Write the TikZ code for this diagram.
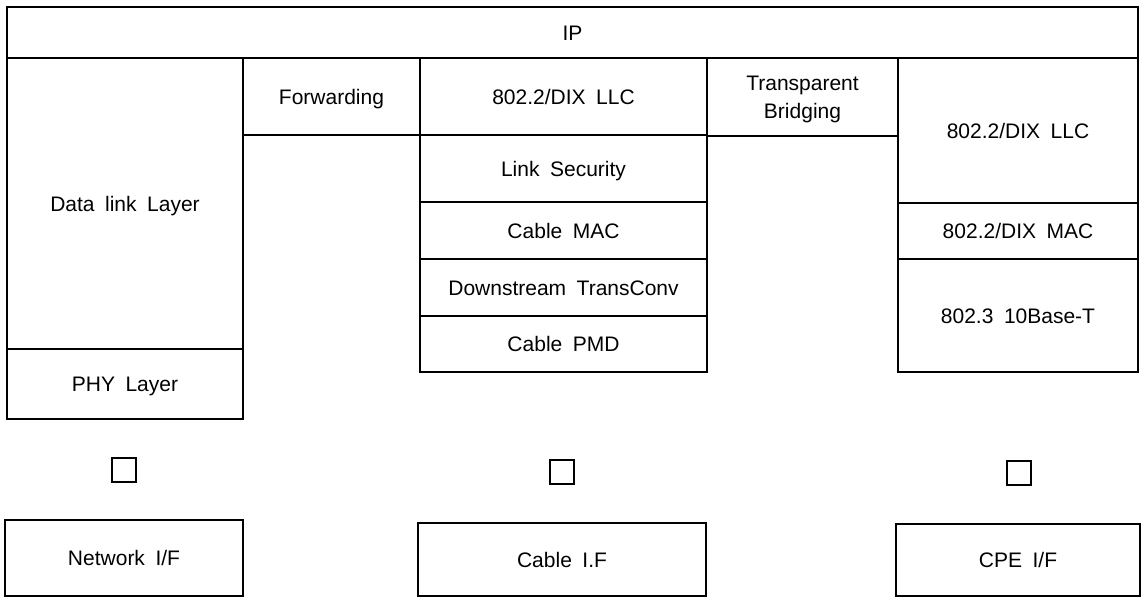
\documentclass[tikz,border=0pt]{standalone}
\usepackage{fontspec}
\setmainfont{Liberation Sans}[WordSpace=1.8]
\usetikzlibrary{positioning}
\tikzset{
  layer/.style={draw, line width=0.8pt, inner sep=0pt, outer sep=0pt, align=center, text height=7.6pt, text depth=0pt, font=\fontsize{10.5}{14}\selectfont},
  port/.style={draw, line width=0.8pt, minimum size=12pt, inner sep=0pt, outer sep=0pt},
  iface/.style={layer, anchor=north west}}

\begin{document}
\begin{tikzpicture}[x=0.5pt, y=-0.5pt, node distance=0pt]
  \useasboundingbox (0,0) rectangle (1144,598);
  \node[layer, anchor=north west, minimum width=565.5pt, minimum height=25.5pt] (ip) at (7,7) {IP};
  % network side
  \node[layer, anchor=north west, minimum width=118pt, minimum height=145.5pt] (dll) at (ip.south west) {Data link Layer};
  \node[layer, below=of dll, minimum width=118pt, minimum height=35pt] (phy) {PHY Layer};
  \node[layer, anchor=north west, minimum width=88.5pt, minimum height=38.5pt] (fwd) at (dll.north east) {Forwarding};
  % cable side
  \node[layer, anchor=north west, minimum width=143.5pt, minimum height=38.5pt] (llc) at (fwd.north east) {802.2/DIX LLC};
  \node[layer, below=of llc, minimum width=143.5pt, minimum height=33.5pt] (sec) {Link Security};
  \node[layer, below=of sec, minimum width=143.5pt, minimum height=28.5pt] (cmac) {Cable MAC};
  \node[layer, below=of cmac, minimum width=143.5pt, minimum height=28.5pt] (dtc) {Downstream TransConv};
  \node[layer, below=of dtc, minimum width=143.5pt, minimum height=28pt] (pmd) {Cable PMD};
  \node[layer, anchor=north west, minimum width=95.5pt, minimum height=39pt, text height=21.6pt] (brg) at (llc.north east) {Transparent\\Bridging};
  % CPE side
  \node[layer, anchor=north west, minimum width=120pt, minimum height=72.5pt] (cllc) at (brg.north east) {802.2/DIX LLC};
  \node[layer, below=of cllc, minimum width=120pt, minimum height=28pt] (cmac2) {802.2/DIX MAC};
  \node[layer, below=of cmac2, minimum width=120pt, minimum height=56.5pt] (tbt) {802.3 10Base-T};
  % ports
  \node[port] (port1) at (124,470) {};
  \node[port] (port2) at (562,472) {};
  \node[port] (port3) at (1019,473) {};
  % interfaces
  \node[iface, minimum width=119pt, minimum height=38pt] (netif) at (5,520) {Network I/F};
  \node[iface, minimum width=144pt, minimum height=36.5pt] (cabif) at (418,523) {Cable I.F};
  \node[iface, minimum width=122pt, minimum height=36pt] (cpeif) at (896,524) {CPE I/F};
\end{tikzpicture}
\end{document}
